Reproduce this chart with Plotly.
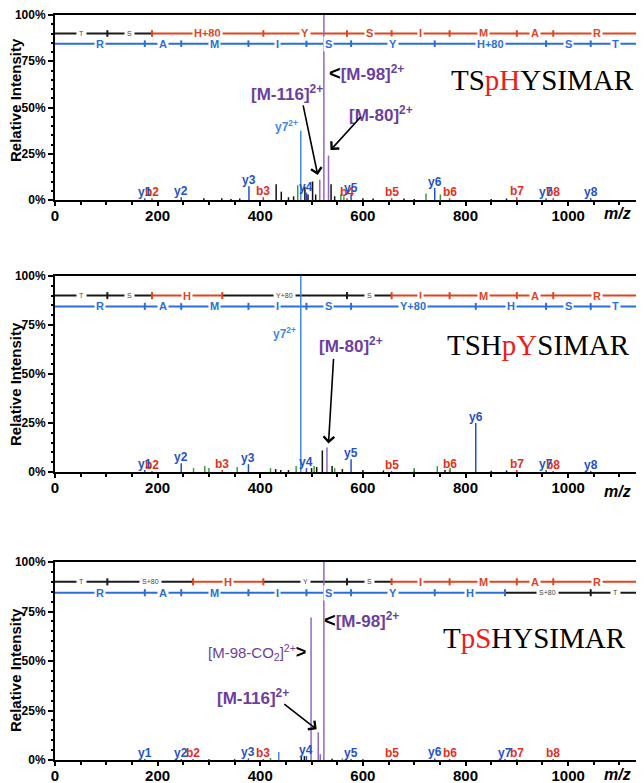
import plotly.graph_objects as go

XMAX = 1142

# ---------------- Panel 1 : TSpHYSIMAR ----------------
p1_purple_mz = [516, 524, 533]
p1_purple_int = [11, 110, 24]
p1_y72_mz = [479]
p1_y72_int = [37.5]
p1_yion_mz = [175, 246, 378, 490, 577, 740, 957, 1044]
p1_yion_int = [1.0, 1.5, 7.5, 4.0, 3.0, 6.5, 1.0, 1.0]
p1_yion_lbl = ["y1", "y2", "y3", "y4", "y5", "y6", "y7", "y8"]
p1_bion_mz = [189, 406, 569, 656, 769, 900, 971]
p1_bion_int = [1.0, 1.5, 1.0, 1.0, 1.0, 1.5, 1.0]
p1_bion_lbl = ["b2", "b3", "b4", "b5", "b6", "b7", "b8"]
p1_green_mz = [473, 557, 563, 723, 751]
p1_green_int = [8.0, 3.0, 2.0, 3.5, 3.0]
p1_other_mz = [290, 325, 343, 360, 431, 441, 455, 465, 487, 493, 502, 508, 538, 545, 600, 620, 680, 700, 850, 880]
p1_other_int = [1.0, 1.0, 0.5, 0.8, 8.5, 4.5, 1.5, 2.0, 7.0, 3.0, 10.0, 3.0, 8.5, 2.0, 1.0, 0.8, 0.8, 0.6, 0.6, 0.8]
p1_b_ticks = [102, 189, 406, 569, 656, 769, 900, 971]
p1_b_res = ["T", "S", "H+80", "Y", "S", "I", "M", "A", "R"]
p1_b_col = ["k", "k", "r", "r", "r", "r", "r", "r", "r"]
p1_y_ticks = [175, 246, 377, 490, 577, 740, 957, 1044]
p1_y_res = ["R", "A", "M", "I", "S", "Y", "H+80", "S", "T"]
p1_y_col = ["b"] * 9

# ---------------- Panel 2 : TSHpYSIMAR ----------------
p2_purple_mz = [530]
p2_purple_int = [12.5]
p2_y72_mz = [479]
p2_y72_int = [110]
p2_yion_mz = [175, 246, 377, 490, 577, 820, 957, 1044]
p2_yion_int = [1.0, 4.5, 4.0, 2.0, 6.5, 25.0, 1.0, 0.5]
p2_yion_lbl = ["y1", "y2", "y3", "y4", "y5", "y6", "y7", "y8"]
p2_bion_mz = [189, 326, 656, 769, 900, 971]
p2_bion_int = [0.5, 1.0, 0.5, 1.0, 1.0, 0.5]
p2_bion_lbl = ["b2", "b3", "b5", "b6", "b7", "b8"]
p2_green_mz = [270, 292, 300, 355, 420, 470, 505, 545, 700, 745, 770]
p2_green_int = [2.0, 3.0, 2.0, 2.5, 2.0, 3.0, 3.0, 2.0, 2.0, 3.0, 2.0]
p2_other_mz = [430, 440, 455, 500, 510, 521, 540, 560, 600, 640, 700, 760, 850, 880]
p2_other_int = [1.5, 1.0, 1.0, 2.0, 2.5, 11.0, 3.0, 1.5, 1.0, 0.8, 0.8, 1.0, 0.6, 0.8]
p2_b_ticks = [102, 189, 326, 569, 656, 769, 900, 971]
p2_b_res = ["T", "S", "H", "Y+80", "S", "I", "M", "A", "R"]
p2_b_col = ["k", "k", "r", "k", "k", "r", "r", "r", "r"]
p2_y_ticks = [175, 246, 377, 490, 577, 820, 957, 1044]
p2_y_res = ["R", "A", "M", "I", "S", "Y+80", "H", "S", "T"]
p2_y_col = ["b"] * 9

# ---------------- Panel 3 : TpSHYSIMAR ----------------
p3_purple_mz = [499, 513, 517, 524]
p3_purple_int = [72, 14, 3, 110]
p3_y72_mz = [436]
p3_y72_int = [4.0]
p3_yion_mz = [175, 246, 377, 490, 577, 740, 877]
p3_yion_int = [0.5, 0.5, 0.8, 2.0, 0.5, 0.8, 0.5]
p3_yion_lbl = ["y1", "y2", "y3", "y4", "y5", "y6", "y7"]
p3_bion_mz = [269, 406, 656, 769, 900, 971]
p3_bion_int = [0.5, 0.5, 0.5, 0.5, 0.5, 0.5]
p3_bion_lbl = ["b2", "b3", "b5", "b6", "b7", "b8"]
p3_green_mz = [420, 560]
p3_green_int = [1.0, 0.8]
p3_other_mz = [300, 350, 480, 486, 540, 600]
p3_other_int = [0.4, 0.4, 1.5, 2.0, 0.6, 0.4]
p3_b_ticks = [102, 269, 406, 569, 656, 769, 900, 971]
p3_b_res = ["T", "S+80", "H", "Y", "S", "I", "M", "A", "R"]
p3_b_col = ["k", "k", "r", "k", "k", "r", "r", "r", "r"]
p3_y_ticks = [175, 246, 377, 490, 577, 740, 877, 1044]
p3_y_res = ["R", "A", "M", "I", "S", "Y", "H", "S+80", "T"]
p3_y_col = ["b", "b", "b", "b", "b", "b", "b", "k", "k"]

# ---------------- styling ----------------
PURPLE_LINE = "#9366c4"
PURPLE_TXT = "#6b3fa0"
Y_BLUE = "#1f52c9"
Y72_BLUE = "#3f8ae6"
B_RED = "#e3301c"
GREEN = "#3a9e3a"
BLACK = "#111111"
LAD = {"k": "#1a1a1a", "r": "#e0451f", "b": "#2b6fd6"}
SANS = "Liberation Sans"

# figure is placed 8 px from the page's top-left corner; plot area spans page px 8..760
W, H = 636, 775
PB = 760  # page y of the common plot-area bottom
PH = 752  # plot-area height


def py(page_y):
    return (PB - page_y) / PH


domains = [[py(200), py(15)], [py(472), py(276)], [py(760), py(562)]]

fig = go.Figure()
annotations = []


def stems(mz, inten):
    xs, ys = [], []
    for m, h in zip(mz, inten):
        xs += [m, m, None]
        ys += [0, h, None]
    return xs, ys


def add_stems(mz, inten, color, width, ax):
    xs, ys = stems(mz, inten)
    fig.add_trace(go.Scatter(x=xs, y=ys, mode="lines", line=dict(color=color, width=width),
                             xaxis="x" + ax, yaxis="y" + ax, hoverinfo="skip", showlegend=False))


def add_ladder(ticks, res, cols, y0, ax):
    bounds = [0] + ticks + [XMAX]
    for i, r in enumerate(res):
        a, b = bounds[i], bounds[i + 1]
        c = LAD[cols[i]]
        fig.add_trace(go.Scatter(x=[a, b], y=[y0, y0], mode="lines", line=dict(color=c, width=2),
                                 xaxis="x" + ax, yaxis="y" + ax, hoverinfo="skip", showlegend=False))
        small = cols[i] == "k"
        annotations.append(dict(
            x=(a + b) / 2, y=y0, xref="x" + ax, yref="y" + ax, text=r, showarrow=False,
            bgcolor="white", borderpad=2 if small else 1,
            font=dict(family=SANS, size=7 if small else 11, color="#444444" if small else c,
                      weight="normal" if small else "bold")))
    for j, t in enumerate(ticks):
        cc = cols[j] if cols[j] != "k" else cols[j + 1]
        fig.add_trace(go.Scatter(x=[t, t], y=[y0 - 1.8, y0 + 1.8], mode="lines",
                                 line=dict(color=LAD[cc], width=2),
                                 xaxis="x" + ax, yaxis="y" + ax, hoverinfo="skip", showlegend=False))


def add_ion_labels(mz, inten, lbl, color, ax):
    for m, h, t in zip(mz, inten, lbl):
        annotations.append(dict(
            x=m, y=max(h, 0.0), xref="x" + ax, yref="y" + ax, text=t, showarrow=False,
            yanchor="bottom", xanchor="center", yshift=-3,
            font=dict(family=SANS, size=12, color=color, weight="bold")))


panels = [
    dict(ax="", purple=(p1_purple_mz, p1_purple_int), y72=(p1_y72_mz, p1_y72_int),
         yi=(p1_yion_mz, p1_yion_int, p1_yion_lbl), bi=(p1_bion_mz, p1_bion_int, p1_bion_lbl),
         g=(p1_green_mz, p1_green_int), o=(p1_other_mz, p1_other_int),
         bl=(p1_b_ticks, p1_b_res, p1_b_col), yl=(p1_y_ticks, p1_y_res, p1_y_col)),
    dict(ax="2", purple=(p2_purple_mz, p2_purple_int), y72=(p2_y72_mz, p2_y72_int),
         yi=(p2_yion_mz, p2_yion_int, p2_yion_lbl), bi=(p2_bion_mz, p2_bion_int, p2_bion_lbl),
         g=(p2_green_mz, p2_green_int), o=(p2_other_mz, p2_other_int),
         bl=(p2_b_ticks, p2_b_res, p2_b_col), yl=(p2_y_ticks, p2_y_res, p2_y_col)),
    dict(ax="3", purple=(p3_purple_mz, p3_purple_int), y72=(p3_y72_mz, p3_y72_int),
         yi=(p3_yion_mz, p3_yion_int, p3_yion_lbl), bi=(p3_bion_mz, p3_bion_int, p3_bion_lbl),
         g=(p3_green_mz, p3_green_int), o=(p3_other_mz, p3_other_int),
         bl=(p3_b_ticks, p3_b_res, p3_b_col), yl=(p3_y_ticks, p3_y_res, p3_y_col)),
]

for p in panels:
    ax = p["ax"]
    add_ladder(*p["bl"], 90.0, ax)
    add_ladder(*p["yl"], 84.5, ax)
    add_stems(*p["o"], BLACK, 1.5, ax)
    add_stems(*p["g"], GREEN, 1.5, ax)
    add_stems(*p["bi"][:2], B_RED, 1.5, ax)
    add_stems(*p["yi"][:2], Y_BLUE, 1.5, ax)
    add_stems(*p["y72"], Y72_BLUE, 1.5, ax)
    add_stems(*p["purple"], PURPLE_LINE, 1.5, ax)
    add_ion_labels(*p["bi"], B_RED, ax)
    add_ion_labels(*p["yi"], Y_BLUE, ax)


def ptxt(text, x, y, ax, size=17, bold=True, xanchor="center", color=PURPLE_TXT):
    annotations.append(dict(x=x, y=y, xref="x" + ax, yref="y" + ax, text=text, showarrow=False,
                            xanchor=xanchor, yanchor="middle",
                            font=dict(family=SANS, size=size, color=color,
                                      weight="bold" if bold else "normal")))


def arrow(x, y, tx, ty, ax, head=4):
    annotations.append(dict(x=x, y=y, ax=tx, ay=ty, xref="x" + ax, yref="y" + ax,
                            axref="x" + ax, ayref="y" + ax, text="", showarrow=True,
                            arrowhead=head, arrowsize=1.3, arrowwidth=1.6, arrowcolor="black"))


LT = "<span style='color:black;font-size:20px'>&lt;</span>"
GT = "<span style='color:black;font-size:18px;font-weight:bold'>&gt;</span>"

# panel 1 annotations
ptxt(LT + "[M-98]<sup>2+</sup>", 530, 68.5, "", xanchor="left")
ptxt("[M-116]<sup>2+</sup>", 452, 58, "")
arrow(512, 13.5, 483, 52, "")
ptxt("[M-80]<sup>2+</sup>", 635, 46.7, "")
arrow(537, 27, 598, 45.5, "")
ptxt("y7<sup>2+</sup>", 477, 40, "", size=12, xanchor="right", color=Y72_BLUE)
annotations.append(dict(x=950, y=65, xref="x", yref="y", showarrow=False,
                        text="TS<span style='color:#e8201a'>pH</span>YSIMAR",
                        font=dict(family="Liberation Serif", size=29, color="black")))

# panel 2 annotations
ptxt("[M-80]<sup>2+</sup>", 576, 65, "2")
arrow(533, 14.5, 543, 58.5, "2")
ptxt("y7<sup>2+</sup>", 474, 71, "2", size=12, xanchor="right", color=Y72_BLUE)
annotations.append(dict(x=943, y=65, xref="x2", yref="y2", showarrow=False,
                        text="TSH<span style='color:#e8201a'>pY</span>SIMAR",
                        font=dict(family="Liberation Serif", size=29, color="black")))

# panel 3 annotations
ptxt(LT + "[M-98]<sup>2+</sup>", 520, 70.7, "3", xanchor="left")
ptxt("[M-98-CO<sub>2</sub>]<sup>2+</sup>" + GT, 493, 54.5, "3", size=15, bold=False, xanchor="right")
ptxt("[M-116]<sup>2+</sup>", 386, 31.8, "3")
arrow(510, 15.5, 444, 28.8, "3")
annotations.append(dict(x=935, y=61.6, xref="x3", yref="y3", showarrow=False,
                        text="T<span style='color:#e8201a'>pS</span>HYSIMAR",
                        font=dict(family="Liberation Serif", size=29, color="black")))

# axis titles / m/z
for c in [100, 384, 670]:
    annotations.append(dict(x=0, y=py(c), xref="paper", yref="paper", xshift=-40,
                            xanchor="center", yanchor="middle",
                            text="Relative Intensity", textangle=-90, showarrow=False,
                            font=dict(family=SANS, size=15, color="black", weight="bold")))
for yy in [213, 492, 774]:
    annotations.append(dict(x=1, y=py(yy), xref="paper", yref="paper", xshift=-8,
                            xanchor="right", yanchor="middle", text="<i>m/z</i>", showarrow=False,
                            font=dict(family=SANS, size=16, color="black", weight="bold")))

axis_common = dict(showline=True, linewidth=2, linecolor="black", mirror=True, showgrid=False,
                   zeroline=False, ticks="outside", tickwidth=2, tickcolor="black",
                   automargin=False, ticklabeloverflow="allow")
layout = dict(width=W, height=H, margin=dict(l=47, r=3, t=0, b=H - PH, pad=0, autoexpand=False),
              plot_bgcolor="white", paper_bgcolor="white", showlegend=False,
              annotations=annotations)
for i, d in enumerate(domains):
    s = "" if i == 0 else str(i + 1)
    layout["xaxis" + s] = dict(axis_common, domain=[0, 1], anchor="y" + s, range=[0, XMAX],
                               tickmode="linear", tick0=0, dtick=200, ticklen=4,
                               ticklabelstandoff=-3,
                               tickfont=dict(family=SANS, size=15, color="black", weight="bold"),
                               minor=dict(tickmode="linear", tick0=0, dtick=50, ticks="outside",
                                          ticklen=3, tickwidth=1.5, tickcolor="black"))
    layout["yaxis" + s] = dict(axis_common, domain=d, anchor="x" + s, range=[0, 100],
                               tickmode="linear", tick0=0, dtick=25, ticksuffix="%", ticklen=5,
                               tickfont=dict(family=SANS, size=12, color="black", weight="bold"),
                               minor=dict(tickmode="linear", tick0=0, dtick=5, ticks="outside",
                                          ticklen=2, tickwidth=1.5, tickcolor="black"))
fig.update_layout(**layout)
fig.write_html("out.html")
